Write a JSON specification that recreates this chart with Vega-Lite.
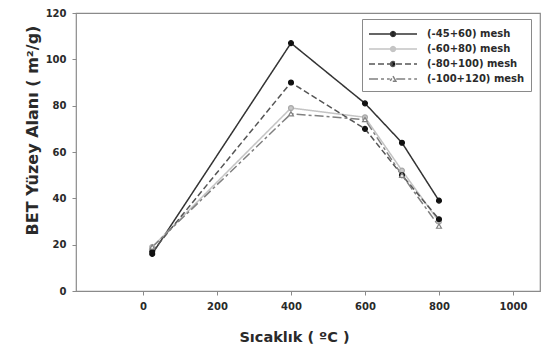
{
  "$schema": "https://vega.github.io/schema/vega-lite/v6.json",
  "width": 464,
  "height": 278,
  "autosize": "none",
  "padding": {"left": 76, "top": 13, "right": 18, "bottom": 67},
  "background": "white",
  "config": {
    "font": "DejaVu Sans",
    "view": {"stroke": "#8a8a8a", "strokeWidth": 1.2},
    "axis": {
      "grid": false,
      "domain": false,
      "tickColor": "#8a8a8a",
      "tickSize": 4,
      "labelFont": "DejaVu Sans",
      "labelFontWeight": "bold",
      "labelFontSize": 10,
      "labelColor": "#2a2a2a",
      "titleFont": "DejaVu Sans",
      "titleFontWeight": "bold",
      "titleFontSize": 14.5,
      "titleColor": "#2a2a2a"
    }
  },
  "data": {
    "values": [
      {"series": "(-45+60) mesh", "T": 25, "BET": 16},
      {"series": "(-45+60) mesh", "T": 400, "BET": 107},
      {"series": "(-45+60) mesh", "T": 600, "BET": 81},
      {"series": "(-45+60) mesh", "T": 700, "BET": 64},
      {"series": "(-45+60) mesh", "T": 800, "BET": 39},
      {"series": "(-60+80) mesh", "T": 25, "BET": 19},
      {"series": "(-60+80) mesh", "T": 400, "BET": 79},
      {"series": "(-60+80) mesh", "T": 600, "BET": 75},
      {"series": "(-60+80) mesh", "T": 700, "BET": 52},
      {"series": "(-60+80) mesh", "T": 800, "BET": 30},
      {"series": "(-80+100) mesh", "T": 25, "BET": 17},
      {"series": "(-80+100) mesh", "T": 400, "BET": 90},
      {"series": "(-80+100) mesh", "T": 600, "BET": 70},
      {"series": "(-80+100) mesh", "T": 700, "BET": 50},
      {"series": "(-80+100) mesh", "T": 800, "BET": 31},
      {"series": "(-100+120) mesh", "T": 25, "BET": 19},
      {"series": "(-100+120) mesh", "T": 400, "BET": 76.5},
      {"series": "(-100+120) mesh", "T": 600, "BET": 74},
      {"series": "(-100+120) mesh", "T": 700, "BET": 50},
      {"series": "(-100+120) mesh", "T": 800, "BET": 28}
    ]
  },
  "encoding": {
    "x": {
      "field": "T",
      "type": "quantitative",
      "scale": {"domain": [-181, 1073], "nice": false, "zero": false},
      "axis": {
        "values": [0, 200, 400, 600, 800, 1000],
        "format": "d",
        "title": "Sıcaklık ( ºC )",
        "titlePadding": 19,
        "titleX": 218,
        "labelPadding": 6
      }
    },
    "y": {
      "field": "BET",
      "type": "quantitative",
      "scale": {"domain": [0, 120], "nice": false},
      "axis": {
        "values": [0, 20, 40, 60, 80, 100, 120],
        "title": "BET Yüzey Alanı ( m²/g)",
        "titleFontSize": 16,
        "titlePadding": 5,
        "titleY": 117,
        "labelPadding": 6
      }
    }
  },
  "resolve": {"legend": {"shape": "independent", "fill": "independent", "stroke": "independent"}, "scale": {"shape": "independent", "fill": "independent", "stroke": "independent"}},
  "layer": [
    {
      "mark": {"type": "line", "strokeWidth": 1.5},
      "encoding": {
        "color": {
          "field": "series",
          "type": "nominal",
          "sort": ["(-45+60) mesh", "(-60+80) mesh", "(-80+100) mesh", "(-100+120) mesh"],
          "scale": {
            "domain": ["(-45+60) mesh", "(-60+80) mesh", "(-80+100) mesh", "(-100+120) mesh"],
            "range": ["#333333", "#c4c4c4", "#555555", "#808080"]
          },
          "legend": {
            "title": null,
            "orient": "none",
            "legendX": 286,
            "legendY": 6,
            "padding": 6,
            "strokeColor": "#8a8a8a",
            "fillColor": "white",
            "symbolType": "M-1,0H5",
            "symbolSize": 256,
            "symbolStrokeWidth": 1.5,
            "labelFont": "DejaVu Sans",
            "labelFontWeight": "bold",
            "labelFontSize": 10,
            "labelColor": "#2a2a2a",
            "labelOffset": 41,
            "rowPadding": 0,
            "encode": {
              "symbols": {
                "update": {
                  "shape": {"signal": "datum.value === '(-100+120) mesh' ? 'M-1,0H1.6M2.4,0H5M2,-0.36L2.36,0.28L1.64,0.28Z' : 'M-1,0H5M1.7,0A0.3,0.3 0 1,0 2.3,0A0.3,0.3 0 1,0 1.7,0'"},
                  "fill": {"signal": "datum.value === '(-100+120) mesh' ? '#ffffff' : (datum.value === '(-60+80) mesh' ? '#c8c8c8' : '#111111')"},
                  "fillOpacity": {"value": 1}
                }
              }
            }
          }
        },
        "strokeDash": {
          "field": "series",
          "type": "nominal",
          "scale": {
            "domain": ["(-45+60) mesh", "(-60+80) mesh", "(-80+100) mesh", "(-100+120) mesh"],
            "range": [[1, 0], [1, 0], [6, 3], [9, 3, 3, 3]]
          },
          "legend": null
        }
      }
    },
    {
      "mark": {"type": "point", "size": 24, "strokeWidth": 1.2, "opacity": 1},
      "encoding": {
        "shape": {
          "field": "series",
          "type": "nominal",
          "scale": {
            "domain": ["(-45+60) mesh", "(-60+80) mesh", "(-80+100) mesh", "(-100+120) mesh"],
            "range": ["circle", "circle", "circle", "triangle-up"]
          },
          "legend": null
        },
        "fill": {
          "field": "series",
          "type": "nominal",
          "scale": {
            "domain": ["(-45+60) mesh", "(-60+80) mesh", "(-80+100) mesh", "(-100+120) mesh"],
            "range": ["#111111", "#c8c8c8", "#111111", "#ffffff"]
          },
          "legend": null
        },
        "stroke": {
          "field": "series",
          "type": "nominal",
          "scale": {
            "domain": ["(-45+60) mesh", "(-60+80) mesh", "(-80+100) mesh", "(-100+120) mesh"],
            "range": ["#111111", "#a8a8a8", "#111111", "#808080"]
          },
          "legend": null
        }
      }
    }
  ]
}
